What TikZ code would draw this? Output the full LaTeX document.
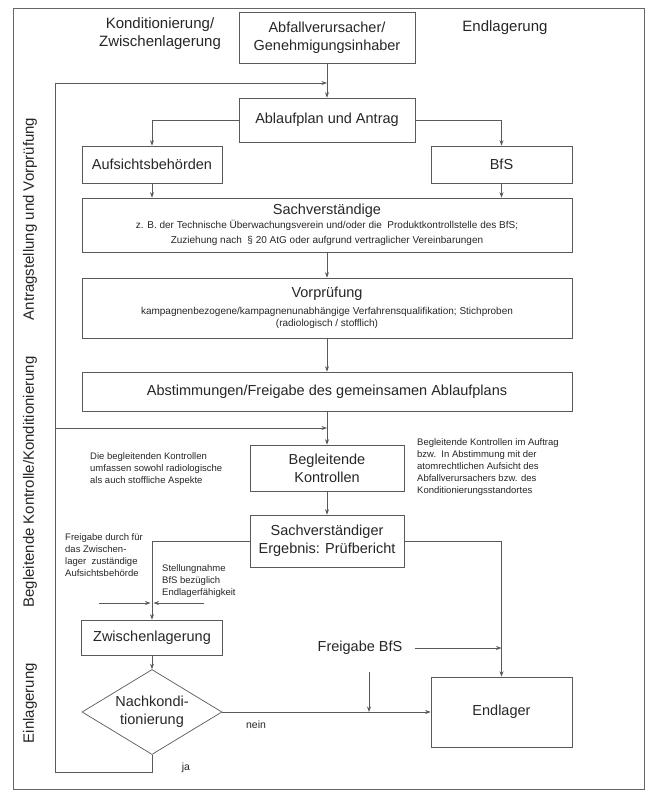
\documentclass[tikz,border=0pt]{standalone}
\usepackage{fontspec}
\setmainfont{Liberation Sans}
\usetikzlibrary{positioning,arrows.meta,shapes.geometric}
\tikzset{>={Stealth[length=5.5pt,width=4pt]}}
\newcommand\titletxt{\fontsize{14.5}{18}\selectfont}
\newcommand\subtxt{\fontsize{10}{14.5}\selectfont}
\tikzset{
  flowbox/.style={draw=black!65,line width=0.7pt,rectangle,inner sep=0pt,align=center,text=black!85,font=\titletxt},
  headtext/.style={inner sep=0pt,align=center,text=black!85,font=\fontsize{15}{18}\selectfont},
  notetext/.style={inner sep=0pt,align=left,anchor=west,text=black!85,font=\fontsize{9.5}{12}\selectfont},
  conn/.style={draw=black!65,line width=0.7pt},
}

\begin{document}
\begin{tikzpicture}[x=1pt,y=-1pt]
\useasboundingbox (0,0) rectangle (654,796);
\draw[black!60,line width=0.8pt] (13,8) rectangle (644,789);

\node[headtext] (kond) at (160,34) {Konditionierung/\\Zwischenlagerung};
\node[headtext] (endl) at (505,28) {Endlagerung};
\node[headtext,rotate=90] (phase1) at (30,219) {Antragstellung und Vorprüfung};
\node[headtext,rotate=90] (phase2) at (30,482) {Begleitende Kontrolle/Konditionierung};
\node[headtext,rotate=90] (phase3) at (30,703) {Einlagerung};

\node[flowbox,minimum width=176pt,minimum height=51pt] (abfall) at (327,37.5) {Abfallverursacher/\\Genehmigungsinhaber};
\node[flowbox,minimum width=176pt,minimum height=44pt] (ablauf) at (327,120) {Ablaufplan und Antrag};
\node[flowbox,minimum width=140pt,minimum height=37pt] (aufsicht) at (152,164.5) {Aufsichtsbehörden};
\node[flowbox,minimum width=141pt,minimum height=37pt] (bfs) at (501.5,164.5) {BfS};
\node[flowbox,font=\subtxt,minimum width=490pt,minimum height=54pt] (sachv) at (327,225)
  {{\titletxt Sachverständige}\\[-0.5pt]
   z. B. der Technische Überwachungsverein und/oder die\ \ Produktkontrollstelle des BfS;\\
   Zuziehung nach\ \ § 20 AtG oder aufgrund vertraglicher Vereinbarungen};
\node[flowbox,font=\fontsize{10}{12}\selectfont,minimum width=490pt,minimum height=60pt] (vorpr) at (327,308)
  {{\titletxt Vorprüfung}\\[4.5pt]
   kampagnenbezogene/kampagnenunabhängige Verfahrensqualifikation; Stichproben\\
   (radiologisch / stofflich)};
\node[flowbox,minimum width=490pt,minimum height=39pt] (abstimm) at (327,391.5) {Abstimmungen/Freigabe des gemeinsamen Ablaufplans};
\node[flowbox,minimum width=154pt,minimum height=46pt] (begleit) at (327,468) {Begleitende\\Kontrollen};
\node[flowbox,minimum width=154pt,minimum height=52pt] (sachvr) at (327,541) {Sachverständiger\\Ergebnis: Prüfbericht};
\node[flowbox,minimum width=141pt,minimum height=35pt] (zwischen) at (152,637.5) {Zwischenlagerung};
\node[flowbox,shape=diamond,aspect=1.65,minimum width=140pt,minimum height=85pt] (nachk) at (152,712) {Nachkondi-\\tionierung};
\node[flowbox,minimum width=141pt,minimum height=70pt] (endlager) at (501.5,712) {Endlager};

\node[notetext] (note1) at (90,469) {Die begleitenden Kontrollen\\umfassen sowohl radiologische\\als auch stoffliche Aspekte};
\node[notetext] (note2) at (417,467.5) {Begleitende Kontrollen im Auftrag\\bzw.\ \ In Abstimmung mit der\\atomrechtlichen Aufsicht des\\Abfallverursachers bzw. des\\Konditionierungsstandortes};
\node[notetext] (note3) at (65,555) {Freigabe durch für\\das Zwischen-\\lager\ \ zuständige\\Aufsichtsbehörde};
\node[notetext] (note4) at (162,581) {Stellungnahme\\BfS bezüglich\\Endlagerfähigkeit};
\node[headtext,font=\titletxt] (freigabe) at (360,648) {Freigabe BfS};
\node[notetext,anchor=center,font=\fontsize{10.5}{12}\selectfont] (nein) at (256,725) {nein};
\node[notetext,anchor=center,font=\fontsize{10.5}{12}\selectfont] (ja) at (186,768) {ja};

\coordinate (loopbot) at (152,772);
\coordinate (loopleft) at (55,772);
\coordinate (looptop) at (55,83);
\coordinate (kontrin) at (55,428);
\coordinate (zwl) at (99,603);
\coordinate (zwr) at (204,603);
\coordinate (zwm) at (zwischen.north |- zwl);
\coordinate (frdown) at (369,672);

\draw[conn,->] (abfall) -- (ablauf);
\draw[conn,->] (nachk.south) -- (loopbot) -- (loopleft) -- (looptop) -- (looptop -| abfall.south);
\draw[conn,->] (ablauf.west) -| (aufsicht.north);
\draw[conn,->] (ablauf.east) -| (bfs.north);
\draw[conn,->] (aufsicht.south) -- (aufsicht.south |- sachv.north);
\draw[conn,->] (bfs.south) -- (bfs.south |- sachv.north);
\draw[conn,->] (sachv) -- (vorpr);
\draw[conn,->] (vorpr) -- (abstimm);
\draw[conn,->] (abstimm) -- (begleit);
\draw[conn,->] (kontrin) -- (kontrin -| begleit.north);
\draw[conn,->] (begleit) -- (sachvr);
\draw[conn,->] (sachvr.west) -| (zwischen.north);
\draw[conn,->] (sachvr.east) -| (endlager.north);
\draw[conn,->] (zwl) -- ([xshift=-1.5pt]zwm);
\draw[conn,->] (zwr) -- ([xshift=1.5pt]zwm);
\draw[conn,->] (zwischen) -- (nachk);
\draw[conn,->] (nachk) -- (endlager);
\draw[conn,->] ([xshift=12pt]freigabe.east) -- (freigabe.east -| endlager.north);
\draw[conn,->] (frdown) -- (frdown |- endlager.west);
\end{tikzpicture}
\end{document}
